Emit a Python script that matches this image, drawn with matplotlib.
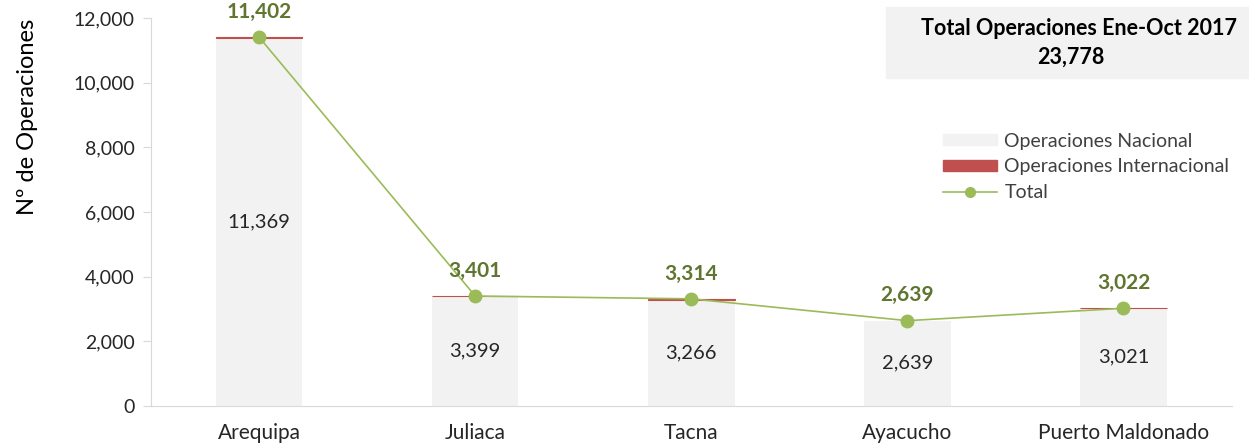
import matplotlib

matplotlib.use("Agg", force=True)
import matplotlib.pyplot as plt
from matplotlib.lines import Line2D
from matplotlib.patches import Patch, Rectangle
import numpy as np

plt.rcParams["font.family"] = ["Lato", "DejaVu Sans"]

airports = ["Arequipa", "Juliaca", "Tacna", "Ayacucho", "Puerto Maldonado"]
nacional = [11369, 3399, 3266, 2639, 3021]
internacional = [33, 2, 48, 0, 1]
total = [11402, 3401, 3314, 2639, 3022]
grand_total = "23,778"

GRAY = "#f2f2f2"
RED = "#c0504d"
GREEN = "#9bbb59"
DARK_GREEN = "#5f7530"
TEXT = "#262626"

fig = plt.figure(figsize=(12.49, 4.43), dpi=100)
ax = fig.add_axes([0.121, 0.0835, 0.865, 0.876])

x = np.arange(len(airports))
ax.bar(x, nacional, width=0.4, color=GRAY, zorder=1)
ax.bar(x, internacional, width=0.4, bottom=nacional, color=RED,
       edgecolor=[RED if v else "none" for v in internacional], lw=0.8, zorder=1)
ax.plot(x, total, color=GREEN, lw=1.2, marker="o", ms=9, zorder=3)

for xi, n, t in zip(x, nacional, total):
    ax.text(xi, n / 2, f"{n:,}", ha="center", va="center", fontsize=14.5, color=TEXT)
    ax.annotate(f"{t:,}", (xi, t), xytext=(0, 11), textcoords="offset points",
                ha="center", va="bottom", fontsize=15, fontweight="bold", color=DARK_GREEN)

ax.set_xlim(-0.5, len(airports) - 0.5)
ax.set_ylim(0, 12000)
ax.set_yticks(range(0, 12001, 2000))
ax.set_yticklabels([f"{v:,}" for v in range(0, 12001, 2000)], fontsize=14, color=TEXT)
ax.set_xticks(x)
ax.set_xticklabels(airports, fontsize=15, color=TEXT)
ax.tick_params(axis="x", length=0, pad=12)
ax.tick_params(axis="y", length=6, color="#d9d9d9", pad=6)
for side in ("top", "right"):
    ax.spines[side].set_visible(False)
for side in ("left", "bottom"):
    ax.spines[side].set_color("#d9d9d9")
ax.set_ylabel("Nº de Operaciones", fontsize=17, color="black")
ax.yaxis.set_label_coords(-0.105, 0.745)

# summary box
fig.patches.append(Rectangle((0.709, 0.824), 0.291, 0.16, transform=fig.transFigure,
                             color=GRAY, zorder=0))
fig.text(0.99, 0.935, "Total Operaciones Ene-Oct 2017", ha="right", va="center",
         fontsize=15.5, fontweight="bold", color="black")
fig.text(0.857, 0.87, grand_total, ha="center", va="center",
         fontsize=15.5, fontweight="bold", color="black")

handles = [
    Patch(color=GRAY, label="Operaciones Nacional"),
    Patch(color=RED, label="Operaciones Internacional"),
    Line2D([], [], color=GREEN, lw=1.2, marker="o", ms=7, label="Total"),
]
fig.legend(handles=handles, loc="upper left", bbox_to_anchor=(0.741, 0.74),
           frameon=False, fontsize=14, handlelength=2.8, handleheight=0.5,
           labelspacing=0.45, handletextpad=0.35, labelcolor="#404040")

fig.savefig("out.png", dpi=100)
